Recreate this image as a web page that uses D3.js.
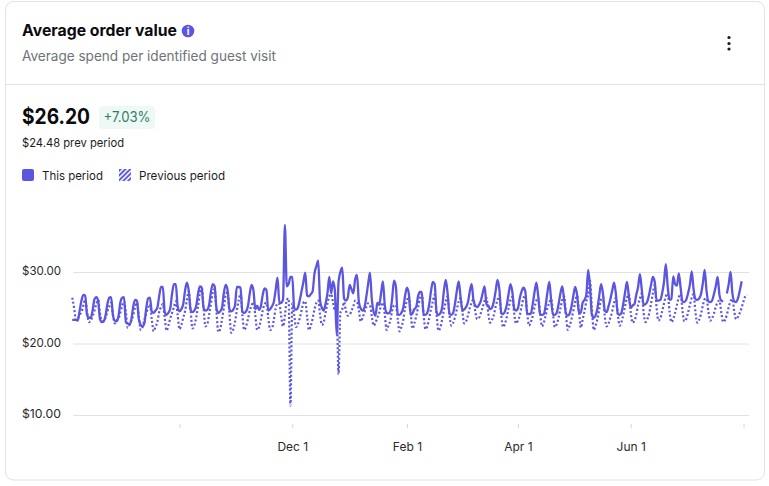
<!DOCTYPE html>
<html><head><meta charset="utf-8">
<script src="https://cdn.jsdelivr.net/npm/d3@7"></script>
<style>html,body{margin:0;padding:0;background:#fff}svg{display:block}text{font-family:Inter,"Noto Sans",sans-serif}</style>
</head><body><svg id="c" width="769" height="486"></svg>
<script>
const startDate = "2023-08-04";
const thisPeriod = [
23.3,
23.3,23.3,23.2,24.6,26.0,26.8,26.7,
24.0,23.6,23.6,24.6,26.2,26.5,26.0,
23.4,23.0,23.1,23.9,25.5,26.4,26.5,
24.0,23.2,23.1,23.8,25.7,26.4,26.5,
23.0,22.8,22.7,23.4,25.2,26.1,26.0,
23.4,22.6,22.4,22.8,24.9,26.3,26.4,
24.5,24.3,24.6,25.0,26.6,27.9,27.9,
24.4,24.0,24.3,24.9,27.0,28.3,28.3,
25.2,24.5,24.8,25.5,27.4,28.5,27.4,
24.7,24.4,24.6,25.2,26.9,28.0,27.8,
25.0,24.6,24.7,25.4,27.2,28.3,28.0,
24.9,24.3,24.5,25.0,27.1,28.2,27.5,
24.8,24.5,24.7,25.3,27.9,27.9,27.8,
24.4,24.3,24.5,25.2,27.0,28.2,27.4,
24.8,25.3,24.7,25.2,26.8,27.7,27.5,
24.6,24.8,25.2,25.8,27.5,29.2,25.7,
25.7,26.2,36.6,28.0,28.3,29.3,29.3,
25.0,24.7,25.0,26.0,27.3,28.6,29.9,
26.7,26.6,26.9,27.3,29.8,30.8,31.6,
26.0,25.0,24.6,25.6,27.0,29.3,27.0,
28.7,27.5,21.2,28.6,30.0,30.6,26.3,
26.0,26.4,28.2,27.6,27.0,29.0,29.6,
25.8,24.9,24.6,25.0,26.5,28.3,29.9,
26.2,24.4,23.9,25.7,25.4,27.0,28.7,
25.4,24.3,24.2,24.5,26.3,28.8,28.0,
24.1,24.0,24.3,25.0,26.7,27.8,27.0,
24.0,24.2,24.8,25.1,26.6,27.2,27.2,
24.1,24.0,24.3,25.4,27.3,28.6,28.3,
24.4,24.0,24.2,25.0,27.4,28.9,27.0,
24.1,24.0,24.3,25.6,27.4,28.7,26.5,
24.6,24.8,25.1,25.8,27.3,28.3,26.0,
25.3,25.1,25.4,26.0,27.1,28.0,25.5,
25.3,24.8,25.0,25.9,27.4,28.9,27.5,
24.3,24.1,24.5,25.4,27.0,28.3,27.2,
24.9,24.6,24.9,26.3,27.3,27.8,27.3,
24.2,24.1,24.2,25.5,27.2,28.5,26.6,
24.1,24.0,24.1,25.3,27.2,28.6,26.0,
24.0,24.0,24.3,25.5,27.0,28.0,26.1,
24.2,23.9,24.2,25.2,26.7,27.9,26.8,
24.4,24.3,25.7,26.1,26.8,30.3,28.0,
24.0,23.6,23.9,24.9,26.7,28.3,27.0,
24.6,24.4,25.2,26.2,27.4,28.5,26.9,
24.2,24.0,24.3,25.6,27.2,28.6,26.6,
25.0,25.3,25.5,26.8,27.9,29.7,27.5,
25.4,25.5,25.9,26.9,28.2,29.3,28.6,
26.0,26.0,26.1,27.0,28.6,31.1,28.0,
26.1,26.2,29.4,28.3,28.1,29.8,27.8,
25.9,25.8,26.1,27.0,28.2,30.1,27.6,
26.2,26.1,26.3,26.9,28.4,30.3,27.4,
25.9,25.8,26.0,26.9,28.0,29.3,26.8,
26.0,25.9,null,27.0,28.3,30.0,27.0,
25.9,25.8,26.3,27.4,28.7
];
const previousPeriod = [
26.4,25.0,23.3,23.5,24.0,24.4,25.3,
26.1,24.5,23.0,23.2,23.8,24.6,25.5,
26.1,24.2,23.2,23.1,23.6,24.5,25.2,
25.7,24.0,22.8,23.2,23.5,24.3,25.3,
25.9,24.4,22.2,22.6,23.2,24.0,25.1,
25.7,23.8,21.9,22.3,23.3,24.2,25.0,
25.5,23.4,21.7,22.3,23.0,24.4,25.1,
25.5,23.6,21.8,22.5,23.5,24.3,25.1,
25.9,24.0,22.0,22.6,23.6,24.5,26.1,
27.3,24.7,22.1,22.5,23.6,25.2,27.0,
28.0,25.0,22.4,22.7,24.0,25.6,27.1,
27.6,24.4,21.6,22.0,23.4,25.0,26.8,
27.2,24.2,21.5,21.9,23.0,24.6,26.0,
27.0,24.0,21.9,22.4,23.4,24.6,25.3,
25.8,23.9,21.9,22.3,23.3,24.6,25.5,
25.7,23.6,21.9,22.1,23.3,24.9,25.6,
25.5,23.8,22.4,23.9,26.1,26.3,11.3,
25.6,24.0,22.3,22.7,23.5,24.6,25.7,
25.9,23.8,21.9,22.5,23.5,24.8,25.7,
26.0,24.1,22.6,23.0,24.3,25.6,26.6,
26.9,25.8,24.6,25.0,15.7,24.3,24.8,
25.8,24.6,23.9,24.0,24.6,25.2,26.0,
25.8,24.6,23.1,23.6,24.4,25.1,25.6,
25.4,23.8,22.5,22.9,23.6,24.3,25.3,
25.7,24.1,21.9,22.5,23.2,24.6,25.3,
25.4,23.5,21.7,22.3,23.3,25.0,26.0,
26.6,24.4,22.1,22.8,23.8,25.0,26.4,
26.9,24.0,22.0,22.4,23.5,24.8,25.9,
26.8,24.2,21.8,22.2,23.3,24.7,25.9,
26.6,24.0,22.5,22.9,23.7,24.8,25.9,
26.3,24.4,22.8,23.1,23.9,25.0,25.7,
26.2,24.4,23.4,23.6,24.3,25.1,26.0,
26.4,24.2,22.9,23.3,24.0,25.2,26.1,
26.7,23.9,22.3,22.8,23.7,25.0,26.1,
26.5,24.2,22.8,23.2,23.9,25.2,26.3,
26.7,24.4,22.5,23.0,23.8,25.1,26.0,
26.4,24.3,22.4,22.9,23.9,25.0,25.7,
26.2,24.1,22.3,22.7,23.6,24.9,26.1,
26.6,24.0,21.9,22.5,23.4,24.6,25.8,
26.7,24.7,22.2,23.3,24.5,25.9,26.8,
28.8,25.0,21.9,22.5,23.4,24.8,26.2,
26.5,23.8,22.4,22.8,23.6,24.5,25.7,
26.4,24.2,22.5,23.0,24.0,25.3,26.4,
26.9,24.4,22.9,23.2,24.0,25.4,26.3,
27.0,24.3,23.0,23.4,24.2,25.6,27.0,
28.2,25.0,23.2,23.5,24.5,25.6,26.6,
27.0,24.5,23.0,23.4,24.3,25.4,26.5,
26.9,24.6,23.1,23.4,24.3,25.4,26.4,
26.9,24.4,22.9,23.3,24.1,25.3,26.2,
26.3,24.5,23.2,23.5,24.2,25.1,25.8,
26.0,24.3,23.0,23.3,24.0,25.1,25.9,
26.2,24.5,23.4,23.7,24.3,25.0,25.9,
26.6,26.8
];
const yTicks = [10, 20, 30];
const xTickDates = ["2023-10-01","2023-12-01","2024-02-01","2024-04-01","2024-06-01","2024-08-01"];
const xTickLabels = ["","Dec 1","Feb 1","Apr 1","Jun 1",""];
const seriesNames = ["This period","Previous period"];
const title = "Average order value";
const subtitle = "Average spend per identified guest visit";
const bigValue = "$26.20", badge = "+7.03%", prevText = "$24.48 prev period";

const INK = "#5b55e0";
const svg = d3.select("#c");
const parse = d3.utcParse("%Y-%m-%d");
const t0 = parse(startDate);
const x = d3.scaleUtc().domain([parse(xTickDates[0]), parse(xTickDates[5])]).range([179.5, 743.5]);
const y = d3.scaleLinear().domain([10, 30]).range([415, 272]);
const rows = a => a.map((v,i)=>({d:d3.utcDay.offset(t0,i),v}));

const defs = svg.append("defs");
const pat = defs.append("pattern").attr("id","hatch").attr("patternUnits","userSpaceOnUse").attr("width",3.4).attr("height",3.4).attr("patternTransform","rotate(45)");
pat.append("rect").attr("width",1.9).attr("height",3.4).attr("fill",INK);

svg.append("rect").attr("x",5.5).attr("y",1.5).attr("width",759).attr("height",478.5).attr("rx",8).attr("fill","#fff").attr("stroke","#e2e2e2");
svg.append("line").attr("x1",6).attr("x2",764).attr("y1",84.5).attr("y2",84.5).attr("stroke","#e2e2e2");

const txt = (s,xp,yp,size,weight,fill,len) => { const t = svg.append("text").attr("x",xp).attr("y",yp).attr("font-size",size).attr("font-weight",weight).attr("fill",fill).text(s); if(len) t.attr("textLength",len).attr("lengthAdjust","spacingAndGlyphs"); return t; };
txt(title,22,36,16,700,"#0b0b0f",155);
svg.append("circle").attr("cx",188).attr("cy",31).attr("r",6.3).attr("fill",INK);
svg.append("text").attr("x",188).attr("y",34.7).attr("text-anchor","middle").attr("font-size",10).attr("font-weight",700).attr("fill","#fff").text("i");
txt(subtitle,22,61,14,400,"#6d7378",254);
[37.5,43.5,49].forEach(c=>svg.append("circle").attr("cx",729).attr("cy",c).attr("r",1.6).attr("fill","#1a1a1a"));

txt(bigValue,22,124,21,700,"#0b0b0f",68);
svg.append("rect").attr("x",99).attr("y",106).attr("width",56).attr("height",23).attr("rx",4).attr("fill","#eef8f5");
txt(badge,103.5,122,14,400,"#2e7d69",47);
txt(prevText,22,147,12,400,"#1c1c1c",102);

svg.append("rect").attr("x",22).attr("y",169).attr("width",12).attr("height",12).attr("rx",2).attr("fill",INK);
txt(seriesNames[0],42,180,12,400,"#1c1c1c",61);
svg.append("rect").attr("x",119).attr("y",169).attr("width",12).attr("height",12).attr("fill","url(#hatch)");
txt(seriesNames[1],139,180,12,400,"#1c1c1c",86);

const gy = svg.append("g").attr("transform","translate(73,0)")
  .call(d3.axisLeft(y).tickValues(yTicks).tickSize(-676).tickPadding(12).tickFormat(d=>"$"+d3.format(".2f")(d)));
gy.select(".domain").remove();
gy.selectAll("line").attr("stroke","#e2e2e2");
gy.selectAll("text").attr("font-size",12).attr("fill","#2a2a2a").attr("dy","0.22em").attr("textLength",39).attr("lengthAdjust","spacingAndGlyphs");

const gx = svg.append("g").attr("transform","translate(0,424)")
  .call(d3.axisBottom(x).tickValues(xTickDates.map(parse)).tickSize(4).tickPadding(14).tickFormat((d,i)=>xTickLabels[i]));
gx.select(".domain").remove();
gx.selectAll("line").attr("stroke","#d6d6d6");
gx.selectAll("text").attr("font-size",12).attr("fill","#2a2a2a");

const line = d3.line().defined(d=>d.v!=null).x(d=>x(d.d)).y(d=>y(d.v)).curve(d3.curveMonotoneX);
svg.append("path").datum(rows(previousPeriod)).attr("d",line).attr("fill","none").attr("stroke",INK).attr("stroke-width",2.2).attr("stroke-dasharray","2 2.2");
svg.append("path").datum(rows(thisPeriod)).attr("d",line).attr("fill","none").attr("stroke",INK).attr("stroke-width",2.3);
</script></body></html>
